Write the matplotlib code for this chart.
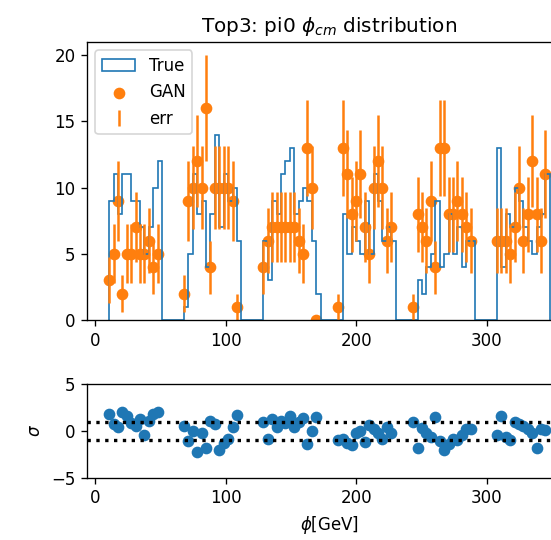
import numpy as np
import matplotlib
matplotlib.use("Agg")
import matplotlib.pyplot as plt
from matplotlib.ticker import MultipleLocator

nan = np.nan

# bin edges of the phi histogram (100 bins)
phi_lo, phi_hi, n_bins = 10.5, 348.5, 100

# True counts per bin
true_counts = [
    9, 11, 8, 11, 11, 9, 9, 7, 5, 7, 10, 12,
    0, 0, 0, 0, 0,
    1, 5, 11, 8, 9, 4, 8, 14, 7, 11, 9, 10, 6,
    0, 0, 0, 0, 0,
    6, 3, 9, 8, 11, 12, 13, 8, 9, 10, 9, 6, 2,
    0, 0, 0, 0, 0,
    8, 5, 7, 6, 5, 9, 5, 11, 9, 6, 7, 6,
    0, 0, 0, 0, 0,
    3, 2, 4, 5, 9, 4, 5, 8, 5, 7, 4, 6, 6,
    0, 0, 0, 0, 0,
    13, 4, 8, 7, 10, 9, 7, 6, 5, 7, 8, 11,
]

# GAN counts per bin (nan = not drawn)
gan_counts = [
    3, 5, 9, 2, 5, 5, 7, 5, 5, 6, 4, 5,
    nan, nan, nan, nan, nan,
    2, 9, 10, 12, 10, 16, 4, 10, 10, 10, 10, 9, 1,
    nan, nan, nan, nan, nan,
    4, 6, 7, 7, 7, 7, 7, 7, 6, 5, 13, 10, 0,
    nan, nan, nan, nan, 1,
    13, 11, 8, 9, 11, 7, 5, 10, 12, 10, 6, 7,
    nan, nan, nan, nan, 1,
    8, 7, 6, 9, 4, 13, 13, 8, 8, 9, 8, 7, 6,
    nan, nan, nan, nan, nan,
    6, 6, 6, 5, 7, 10, 6, 8, 12, 8, 6, 11,
]

# pull per bin
sigma = [
    1.8, 0.7, 0.4, 2.0, 1.6, 0.9, 0.5, 1.3, -0.4, 1.1, 1.8, 2.0,
    nan, nan, nan, nan, nan,
    0.5, -1.1, 0.0, -2.3, -0.2, -1.8, 1.1, 0.7, -2.0, -1.3, -0.9, 0.4, 1.7,
    nan, nan, nan, nan, nan,
    1.0, -0.9, 1.3, 0.4, 1.1, 0.8, 1.6, 0.4, 1.0, 1.4, -1.4, 0.0, 1.5,
    nan, nan, nan, nan, -1.0,
    -0.9, -1.3, -1.5, -0.2, 0.0, -1.2, 0.6, 0.2, -0.2, -0.9, 0.4, -0.2,
    nan, nan, nan, nan, 1.0,
    -1.8, 0.3, -0.2, -0.7, 1.5, -1.1, -2.0, -1.4, -0.9, -1.0, -0.4, 0.2, 0.2,
    nan, nan, nan, nan, nan,
    -0.4, 1.6, -0.7, -1.0, 1.0, 0.7, 0.5, 0.2, -0.2, -1.8, 0.2, 0.1,
]

edges = np.linspace(phi_lo, phi_hi, n_bins + 1)
x = edges[:-1]
gan = np.asarray(gan_counts, dtype=float)
err = np.sqrt(gan)

fig = plt.figure(figsize=(551 / 120, 540 / 120), dpi=120)
# axes run past the right edge, as in the reference crop
ax1 = fig.add_axes([0.158, 0.4074, 0.88, 0.5148])
ax2 = fig.add_axes([0.158, 0.1157, 0.88, 0.1726])

ax1.hist(x, bins=edges, weights=true_counts, histtype="step", label="True")
ax1.scatter(x, gan, color="C1", label="GAN")
ax1.errorbar(x, gan, yerr=err, fmt="none", color="C1", label="err")
ax1.legend(loc="upper left")
ax1.set_title(r"Top3: pi0 $\phi_{cm}$ distribution")
ax1.xaxis.set_major_locator(MultipleLocator(100))

ax2.scatter(x, sigma, color="C0")
ax2.axhline(1, color="black", linestyle=":", linewidth=2)
ax2.axhline(-1, color="black", linestyle=":", linewidth=2)
ax2.set_ylim(-5, 5)
ax2.set_xlim(ax1.get_xlim())
ax2.xaxis.set_major_locator(MultipleLocator(100))
ax2.set_xlabel(r"$\phi$[GeV]")
ax2.set_ylabel(r"$\sigma$")

fig.savefig("out.png", dpi=120)
